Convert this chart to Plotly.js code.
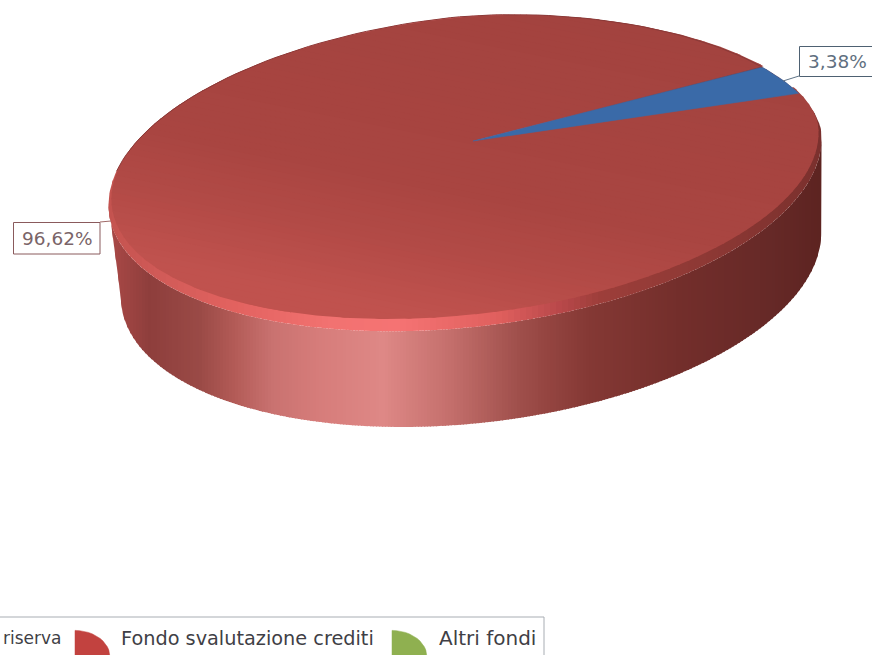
<!DOCTYPE html>
<html><head><meta charset="utf-8">
<script src="https://cdn.plot.ly/plotly-3.0.1.min.js"></script>
<style>html,body{margin:0;padding:0;background:#fff;overflow:hidden}#c{width:872px;height:655px}</style>
</head><body><div id="c"></div>
<script>
// ---- data ----
const sliceNames = ['riserva', 'Fondo svalutazione crediti', 'Altri fondi'];
const sliceValues = [3.38, 96.62, 0];
const sliceLabels = ['3,38%', '96,62%'];

// ---- pseudo-3D pie geometry and styles ----
const deg = Math.PI / 180;
const tilt = 6.5 * deg;
const topE = {cx: 465, cy: 172, a: 358.4, b: 155, farCorner: 1.8};
const faceE = {cx: 465, cy: 166, a: 355.5, b: 148.5, farCorner: 1.8};
const botE = {cx: 471, cy: 265, a: 352, b: 158, farCorner: 2};
const apex = [473, 141];
const startT = -29.5;
const rimStops = [[112,'#a84846'],[150,'#8e3e3c'],[200,'#9a4a46'],[233,'#b25a56'],[273,'#c97270'],[317,'#d67c7a'],[383,'#de8886'],[450,'#c46f6c'],[517,'#a0504c'],[543,'#964642'],[590,'#843834'],[680,'#732e2b'],[770,'#662927'],[825,'#5c2320']];
const bevelStops = [[110,'#c4534f'],[170,'#d35c59'],[233,'#e2625f'],[333,'#f27271'],[400,'#f57373'],[500,'#df5f5d'],[560,'#b8484a'],[600,'#9d3e3a'],[700,'#8e3935'],[825,'#7a302d']];
const faceStops = [[0,'#a3433f'],[200,'#a94541'],[260,'#b24a46'],[330,'#c0524e']];
const faceDir = p => p[1] + (500 - p[0]) * 0.2;

function hex(c){return [1,3,5].map(i=>parseInt(c.substr(i,2),16));}
function ramp(stops,v){
  if(v<=stops[0][0])return stops[0][1];
  for(let i=1;i<stops.length;i++){
    if(v<=stops[i][0]){
      const f=(v-stops[i-1][0])/(stops[i][0]-stops[i-1][0]);
      const p=hex(stops[i-1][1]),q=hex(stops[i][1]);
      return 'rgb('+p.map((x,k)=>Math.round(x+(q[k]-x)*f)).join(',')+')';
    }
  }
  return stops[stops.length-1][1];
}
function ept(E,tDeg){
  const t=tDeg*deg;
  let c=Math.cos(t),s=Math.sin(t);
  if(c>0&&s<0){ // the far right quadrant is flatter in the picture's perspective
    const e=2/E.farCorner;
    c=Math.pow(c,e);s=-Math.pow(-s,e);
  }
  const u=E.a*c,v=E.b*s;
  return [E.cx+u*Math.cos(tilt)+v*Math.sin(tilt),E.cy-u*Math.sin(tilt)+v*Math.cos(tilt)];
}
function arc(E,t0,t1,step){
  const o=[],n=Math.max(1,Math.round(Math.abs(t1-t0)/(step||1)));
  for(let i=0;i<=n;i++)o.push(ept(E,t0+(t1-t0)*i/n));
  return o;
}
function clip(poly,fn,lim,keepAbove){
  const out=[];
  const inside=p=>keepAbove?fn(p)>=lim:fn(p)<=lim;
  for(let i=0;i<poly.length;i++){
    const A=poly[i],B=poly[(i+1)%poly.length];
    if(inside(A))out.push(A);
    if(inside(A)!==inside(B)){
      const f=(lim-fn(A))/(fn(B)-fn(A));
      out.push([A[0]+(B[0]-A[0])*f,A[1]+(B[1]-A[1])*f]);
    }
  }
  return out;
}
function fillTrace(poly,color,lw){
  const P=poly.concat([poly[0]]);
  return {type:'scatter',mode:'lines',x:P.map(p=>p[0]),y:P.map(p=>p[1]),fill:'toself',fillcolor:color,
    line:{color:color,width:lw||0},hoverinfo:'skip',showlegend:false};
}
const px = p => p[0];
const traces=[];
// side wall: vertical colour strips of the wall outline (tangent to tangent)
const wall=arc(topE,3,183,1).concat(arc(botE,183,3,1));
for(let x=106;x<830;x+=3){
  const s=clip(clip(wall,px,x,true),px,x+4,false);
  if(s.length>2)traces.push(fillTrace(s,ramp(rimStops,x+1.5)));
}
// bright bevel round the face
const outer=arc(topE,0,360,1);
for(let x=100;x<830;x+=6){
  const s=clip(clip(outer,px,x,true),px,x+7,false);
  if(s.length>2)traces.push(fillTrace(s,ramp(bevelStops,x+3)));
}
// slices on the face, angles from the values
const total=sliceValues.reduce((a,b)=>a+b,0);
const blueEnd=startT+sliceValues[0]/total*360;
const redEnd=blueEnd+sliceValues[1]/total*360;
const blueOuter=arc(topE,startT,blueEnd,1);
const redPoly=[apex].concat(arc(faceE,blueEnd-1,redEnd+1,1));
for(let d=-60;d<440;d+=6){
  const s=clip(clip(redPoly,faceDir,d,true),faceDir,d+7,false);
  if(s.length>2)traces.push(fillTrace(s,ramp(faceStops,d+3)));
}
traces.push(fillTrace([apex].concat(blueOuter),'#3a6aa8',0.5));
// dark edge along the back of the pie
const back=arc(topE,195,startT+360,2);
traces.push({type:'scatter',mode:'lines',x:back.map(p=>p[0]),y:back.map(p=>p[1]),line:{color:'#8a3a38',width:1},hoverinfo:'skip',showlegend:false});
// leader lines
function leader(pts,c){traces.push({type:'scatter',mode:'lines',x:pts.map(p=>p[0]),y:pts.map(p=>p[1]),line:{color:c,width:1},hoverinfo:'skip',showlegend:false});}
leader([[799,76],[783,81]],'#5f7488');
leader([[100,222],[111,221]],'#a06a68');
// legend icons: quarter-pie swatches
function swatch(x0,y1,r,c){
  const p=[[x0,y1]];
  for(let i=0;i<=12;i++){const t=i/12*90*deg;p.push([x0+r*Math.sin(t),y1-r*0.76*Math.cos(t)]);}
  traces.push(fillTrace(p,c,0.5));
}
swatch(75,657,35,'#c2423f');
swatch(392,657,35,'#8fb050');

const family='"DejaVu Sans", Verdana, sans-serif';
const legendFont=s=>({family:family,size:s,color:'#3f3f46'});
const ann=(x,text,size)=>({xref:'x',yref:'y',x:x,y:638,text:text,showarrow:false,xanchor:'left',yanchor:'middle',font:legendFont(size)});
const boxFont=c=>({family:family,size:18.5,color:c});
const layout={
  width:872,height:655,margin:{l:0,r:0,t:0,b:0},paper_bgcolor:'#fff',plot_bgcolor:'#fff',showlegend:false,
  xaxis:{range:[0,872],visible:false,fixedrange:true},
  yaxis:{range:[655,0],visible:false,fixedrange:true},
  shapes:[
    {type:'rect',xref:'x',yref:'y',x0:-5,x1:544,y0:617,y1:660,line:{color:'#a8adb3',width:1},fillcolor:'#fff',layer:'below'},
    {type:'rect',xref:'x',yref:'y',x0:799.5,x1:885,y0:46.5,y1:76.5,line:{color:'#4e6172',width:1},fillcolor:'#fff',layer:'above'},
    {type:'rect',xref:'x',yref:'y',x0:13.5,x1:100,y0:222.5,y1:254,line:{color:'#8a5a5c',width:1},fillcolor:'#fff',layer:'above'}
  ],
  annotations:[
    ann(1,sliceNames[0],17),
    ann(119,sliceNames[1],19.3),
    ann(437,sliceNames[2],20),
    {xref:'x',yref:'y',x:806,y:61.5,text:sliceLabels[0],showarrow:false,xanchor:'left',yanchor:'middle',font:boxFont('#5f6f80')},
    {xref:'x',yref:'y',x:57,y:238.5,text:sliceLabels[1],showarrow:false,xanchor:'center',yanchor:'middle',font:boxFont('#7a6468')}
  ]
};
Plotly.newPlot('c',traces,layout,{displayModeBar:false,staticPlot:true});
</script></body></html>
